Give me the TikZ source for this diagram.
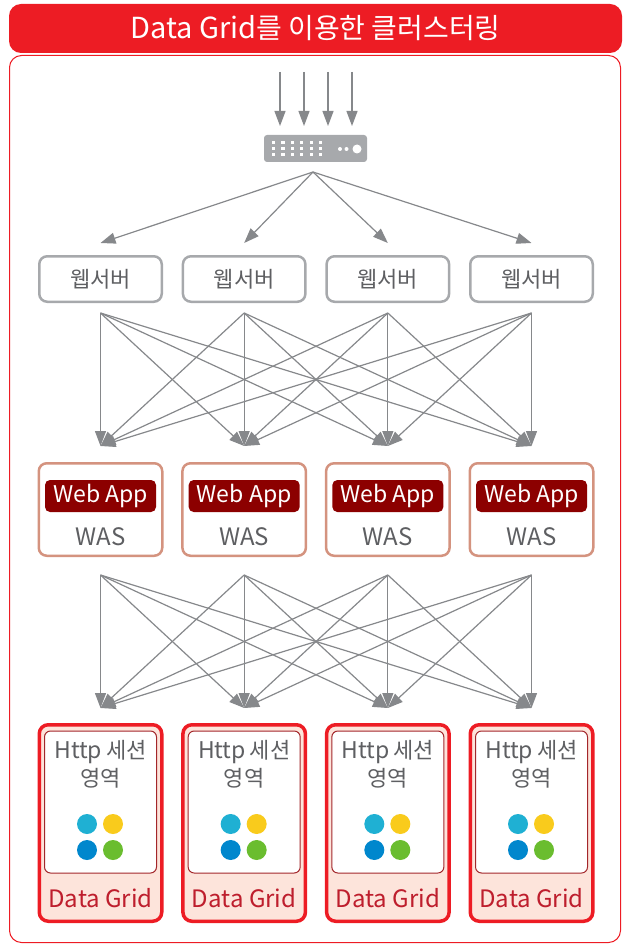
\documentclass[tikz,border=0pt]{standalone}
\usepackage{fontspec}
\setmainfont{Noto Sans CJK KR}
\usetikzlibrary{arrows.meta}
\definecolor{tred}{HTML}{ED1C24}
\definecolor{lgray}{HTML}{A7A9AC}
\definecolor{agray}{HTML}{86888B}
\definecolor{tgray}{HTML}{5E5F62}
\definecolor{wasborder}{HTML}{D4937F}
\definecolor{appred}{HTML}{8C0000}
\definecolor{dgfill}{HTML}{FDE4DB}
\definecolor{dginner}{HTML}{A3262A}
\definecolor{dgtext}{HTML}{BE1E2D}
\definecolor{dcyan}{HTML}{1FB0D3}
\definecolor{dyellow}{HTML}{F9CB1C}
\definecolor{dblue}{HTML}{0087CD}
\definecolor{dgreen}{HTML}{6ABD2F}
\newcommand{\lat}[1]{{\fontsize{24}{26}\selectfont #1}}
\newcommand{\kor}[1]{{\fontsize{22}{26}\selectfont #1}}
\begin{document}
\begin{tikzpicture}[x=1pt,y=-1pt,
  conn/.style={draw=agray, line width=1.2pt, -{Triangle[length=15pt,width=11pt]}},
  webbox/.style={draw=lgray, line width=2.5pt, rounded corners=8pt, minimum width=122.5pt, minimum height=45.5pt, inner sep=0pt, text=tgray},
  wasbox/.style={draw=wasborder, line width=2.5pt, rounded corners=8pt, fill=white, minimum width=123.5pt, minimum height=92.5pt, inner sep=0pt},
  appbox/.style={fill=appred, rounded corners=5pt, minimum width=111pt, minimum height=32pt, inner sep=0pt, text=white},
  dgbox/.style={draw=tred, line width=3.5pt, rounded corners=9pt, fill=dgfill, minimum width=122.5pt, minimum height=196.5pt, inner sep=0pt},
  dginbox/.style={draw=dginner, line width=1pt, rounded corners=6pt, fill=white, minimum width=112pt, minimum height=142pt, inner sep=0pt},
  lbl/.style={inner sep=0pt, text=tgray},
  dot/.style={circle, inner sep=0pt, minimum size=20pt}
]
\useasboundingbox (0,0) rectangle (622,944);
% title bar and frame
\node[fill=tred, rounded corners=12pt, minimum width=613pt, minimum height=49pt, inner sep=0pt, text=white] (title) at (315.5,28.5)
  {{\fontsize{29}{29}\selectfont Data Grid}{\fontsize{28}{28}\selectfont 를 이용한 클러스터링}};
\node[draw=tred, line width=1pt, rounded corners=12pt, minimum width=611pt, minimum height=887pt, inner sep=0pt] (frame) at (315,499) {};
% switch
\node[fill=lgray, rounded corners=3pt, minimum width=103pt, minimum height=27pt, inner sep=0pt] (sw) at (315.5,148.5) {};
\foreach \c in {0,...,5}{
  \foreach \r in {0,1,2}{
    \fill[white] ({272+\c*9.4},{141+\r*6.2}) rectangle ++(3.2,2.8);
  }
}
\fill[white] (340,149) circle (2pt);
\fill[white] (346.5,149) circle (2pt);
\fill[white] (357,149) circle (4.5pt);
% input arrows
\foreach \x [count=\i] in {280,304,328,352}{
  \coordinate (in\i) at (\x,72);
  \coordinate (ine\i) at (\x,126);
  \draw[conn] (in\i) -- (ine\i);
}
\coordinate (hub) at (313,172);
% columns
\foreach \i in {1,2,3,4}{
  \pgfmathsetmacro{\cx}{100.5+143.67*(\i-1)}
  \node[webbox] (w\i) at (\cx,279) {\kor{웹서버}};
  \node[wasbox] (was\i) at (\cx,509.5) {};
  \node[appbox] (app\i) at (\cx,496) {{\fontsize{23}{26}\selectfont Web App}};
  \node[lbl] (wast\i) at (\cx,537) {\lat{WAS}};
  \node[dgbox] (dg\i) at (\cx,823) {};
  \node[dginbox] (dgi\i) at (\cx,802) {};
  \node[lbl] (http\i) at (\cx,752) {{\fontsize{23}{26}\selectfont Http}\hspace{4pt}\kor{세션}};
  \node[lbl] (area\i) at (\cx,778.5) {\kor{영역}};
  \node[dot, fill=dcyan] (c\i) at (\cx-13.5,824) {};
  \node[dot, fill=dyellow] (y\i) at (\cx+12.5,824) {};
  \node[dot, fill=dblue] (b\i) at (\cx-13.5,850) {};
  \node[dot, fill=dgreen] (g\i) at (\cx+12.5,850) {};
  \node[inner sep=0pt, text=dgtext] (dgt\i) at (\cx,898) {\lat{Data Grid}};
  \coordinate (wt\i) at (\cx,243);
  \coordinate (ws\i) at (\cx,313);
  \coordinate (at\i) at (\cx,446);
  \coordinate (as\i) at (\cx,575);
  \coordinate (dt\i) at (\cx,708);
}
% fan-out from switch
\foreach \i in {1,2,3,4}{
  \draw[conn] (hub) -- (wt\i);
}
% web -> was, was -> data grid
\foreach \i in {1,2,3,4}{
  \foreach \j in {1,2,3,4}{
    \draw[conn] (ws\i) -- (at\j);
    \draw[conn] (as\i) -- (dt\j);
  }
}
\end{tikzpicture}
\end{document}
